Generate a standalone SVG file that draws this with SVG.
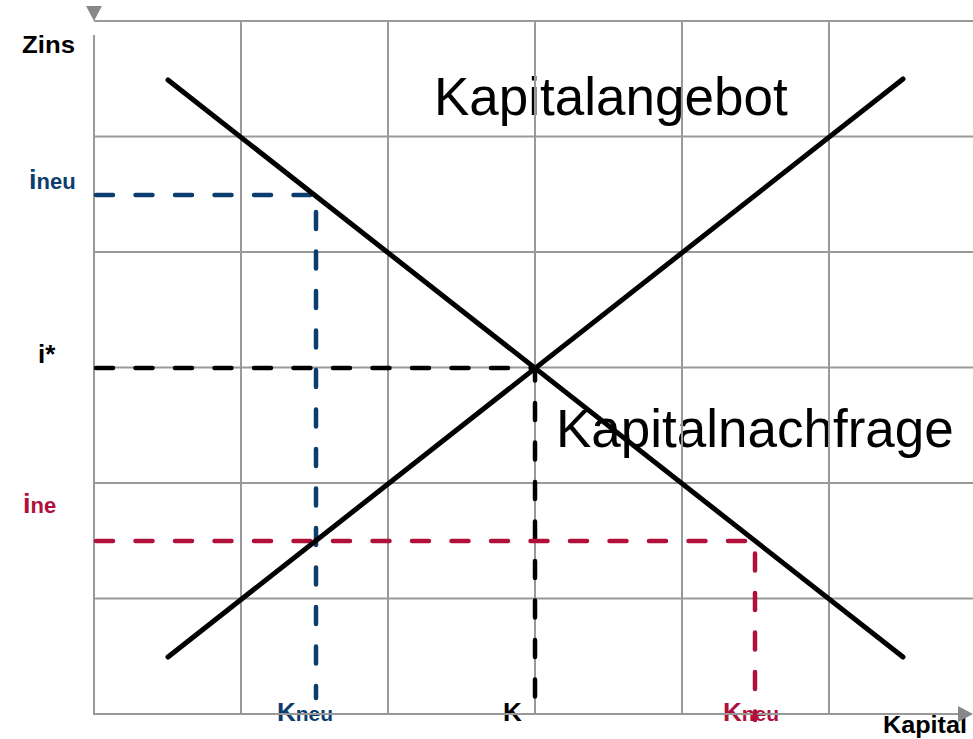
<svg xmlns="http://www.w3.org/2000/svg" width="973" height="739" viewBox="0 0 973 739">
<style>
.lbl{font-family:"Liberation Sans",Arial,sans-serif;font-weight:bold}
.big{font-family:"Liberation Sans",Arial,sans-serif;font-size:53px;fill:#000}
.grid{stroke:#999;stroke-width:2;fill:none}
.dash{fill:none;stroke-width:4.5;stroke-dasharray:17 22.5;stroke-linecap:round;stroke-linejoin:round}
.curve{fill:none;stroke:#000;stroke-width:5;stroke-linecap:round}
</style>
<rect width="973" height="739" fill="#fff"/>
<g id="labels">
<text id="zins" class="lbl" x="22" y="53" font-size="24" fill="#000" textLength="53" lengthAdjust="spacingAndGlyphs">Zins</text>
<text id="ineu" class="lbl" x="29" y="189" fill="#0b3d6e"><tspan font-size="27">i</tspan><tspan font-size="22">neu</tspan></text>
<text id="istar" class="lbl" x="38" y="363" font-size="26" fill="#000">i*</text>
<text id="ine" class="lbl" x="23" y="513" fill="#b0103a"><tspan font-size="27">i</tspan><tspan font-size="22">ne</tspan></text>
<text id="kneu-blue" class="lbl" x="277" y="721" fill="#0b3d6e"><tspan font-size="26">K</tspan><tspan font-size="21">neu</tspan></text>
<text id="k" class="lbl" x="503" y="721" font-size="26" fill="#000">K</text>
<text id="kneu-red" class="lbl" x="723" y="721" fill="#b0103a"><tspan font-size="26">K</tspan><tspan font-size="21">neu</tspan></text>
<text id="kapital" class="lbl" x="883" y="733" font-size="24" fill="#000" textLength="84" lengthAdjust="spacingAndGlyphs">Kapital</text>
<text id="angebot-label" class="big" x="434" y="115">Kapitalangebot</text>
<text id="nachfrage-label" class="big" x="556" y="447">Kapitalnachfrage</text>
</g>
<g id="grid">
<path class="grid" d="M94,21H973M94,136.5H973M94,252H973M94,367.5H973M94,483H973M94,598.5H973"/>
<path class="grid" d="M241,21V714M388,21V714M535,21V714M682,21V714M829,21V714"/>
</g>
<g id="axes">
<path class="grid" d="M94,35V714H962"/>
<polygon points="86,6 102,6 94,21" fill="#888"/>
<polygon points="958,706 973,714 958,722" fill="#888"/>
</g>
<g id="connectors">
<path class="dash" stroke="#0b3d6e" d="M96,195H316V698"/>
<path class="dash" stroke="#000" d="M96,368H535V712"/>
<path class="dash" stroke="#b0103a" d="M96,541H755V720"/>
</g>
<g id="curves">
<line id="nachfrage" class="curve" x1="168" y1="80" x2="903" y2="657"/>
<line id="angebot" class="curve" x1="168" y1="657" x2="903" y2="79"/>
</g>
</svg>
